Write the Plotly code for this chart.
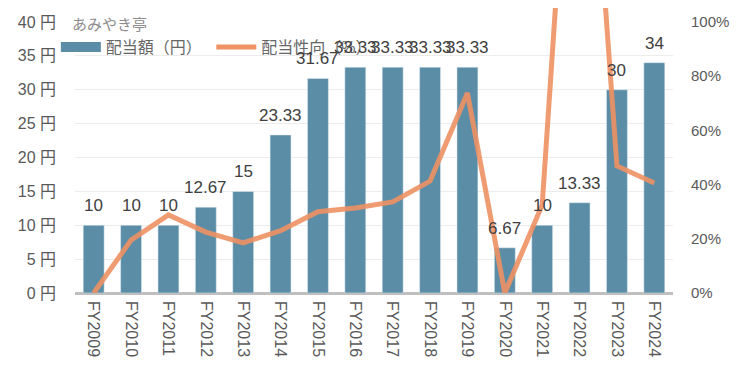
import plotly.graph_objects as go

categories = ["FY2009", "FY2010", "FY2011", "FY2012", "FY2013", "FY2014", "FY2015", "FY2016",
              "FY2017", "FY2018", "FY2019", "FY2020", "FY2021", "FY2022", "FY2023", "FY2024"]
dividend = [10, 10, 10, 12.67, 15, 23.33, 31.67, 33.33, 33.33, 33.33, 33.33, 6.67, 10, 13.33, 30, 34]
payout = [0, 19.5, 28.8, 22.5, 18.5, 23, 30, 31.4, 33.6, 41.3, 73.8, 0, 32.5, 238, 46.9, 40.6]
dividend_labels = ["10", "10", "10", "12.67", "15", "23.33", "31.67", "33.33", "33.33", "33.33",
                   "33.33", "6.67", "10", "13.33", "30", "34"]
left_ticks = [0, 5, 10, 15, 20, 25, 30, 35, 40]
right_ticks = [0, 20, 40, 60, 80, 100]

BAR = "#5b8ea6"
LINE = "#ef9264"
FONT = "Liberation Sans, Noto Sans CJK JP, sans-serif"

# page has an 8px body margin; figure is sized to fit inside the window
W, H = 739, 369
plot_left = 67
plot_right = 665
base_px = 285
plot_top_px = 14
dom_top = (base_px - plot_top_px) / base_px

fig = go.Figure()
fig.add_trace(go.Bar(x=categories, y=dividend, marker_color=BAR, width=0.56,
                     showlegend=False, xaxis="x", yaxis="y"))
fig.add_trace(go.Scatter(x=categories, y=payout, mode="lines", xaxis="x", yaxis="y2",
                         line=dict(color=LINE, width=5), opacity=0.9, showlegend=False))
# legend entries
fig.add_trace(go.Scatter(x=[None], y=[None], mode="lines", name="配当額（円）\u00a0",
                         line=dict(color=BAR, width=12), yaxis="y"))
fig.add_trace(go.Scatter(x=[None], y=[None], mode="lines", name="配当性向（%）",
                         line=dict(color=LINE, width=5), yaxis="y"))

for c, v, t in zip(categories, dividend, dividend_labels):
    fig.add_annotation(x=c, y=v, xref="x", yref="y", text=t, showarrow=False,
                       yanchor="bottom", yshift=8, font=dict(size=17, color="#404040", family=FONT))

fig.add_annotation(x=-0.008, y=(base_px - 17) / base_px, xref="paper", yref="paper",
                   text="あみやき亭", showarrow=False, xanchor="left", yanchor="middle",
                   font=dict(size=15, color="#8c8c8c", family=FONT))

fig.update_layout(
    width=W, height=H,
    margin=dict(l=plot_left, r=W - plot_right, t=0, b=H - base_px),
    paper_bgcolor="white", plot_bgcolor="rgba(0,0,0,0)",
    font=dict(family=FONT, color="#595959", size=14),
    bargap=0.44,
    xaxis=dict(type="category", tickangle=90, showgrid=False, showline=False, ticks="",
               tickfont=dict(size=16, color="#595959"), automargin=False,
               anchor="y", ticklabelstandoff=7),
    yaxis=dict(domain=[0, dom_top], range=[0, 40], tickvals=left_ticks,
               ticktext=[f"{v} 円" for v in left_ticks], showgrid=True, gridcolor="#ececec",
               gridwidth=1, zeroline=True, zerolinecolor="#bfbfbf", zerolinewidth=3,
               tickfont=dict(size=16, color="#595959"), ticks="", anchor="x",
               automargin=False, ticklabelstandoff=18),
    yaxis2=dict(domain=[0, 1], range=[0, 100 * base_px / (base_px - plot_top_px)],
                tickvals=right_ticks, ticktext=[f"{v}%" for v in right_ticks],
                side="right", anchor="x", showgrid=False, zeroline=False,
                tickfont=dict(size=15, color="#595959"), ticks="", ticklabelstandoff=17,
                automargin=False),
    legend=dict(orientation="h", x=-0.032, xanchor="left", y=(base_px - 39) / base_px,
                yanchor="middle", bgcolor="rgba(0,0,0,0)", itemwidth=40,
                font=dict(size=16, color="#666666", family=FONT), tracegroupgap=0),
)

fig.write_html("out.html")
